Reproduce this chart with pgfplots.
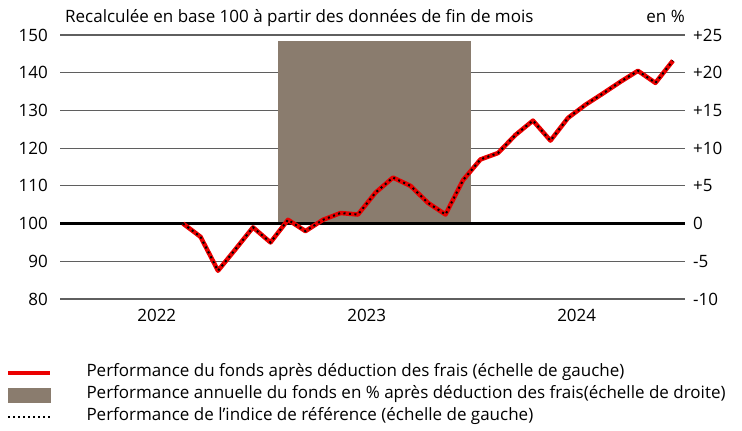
\documentclass[border=0pt]{standalone}
\usepackage{pgfplots}
\usepackage{pgfplotstable}
\pgfplotsset{compat=1.18}
\usepackage{fontspec}
\setmainfont{Open Sans}
\definecolor{barcol}{RGB}{138,124,110}
\definecolor{gridcol}{RGB}{95,95,95}
\definecolor{fundred}{RGB}{235,0,0}

% Performance du fonds (base 100), fin de mois, index 0 = août 2022
\pgfplotstableread{
x y
0 100.0
1 96.5
2 87.5
3 93.2
4 99.0
5 95.0
6 101.0
7 98.0
8 101.0
9 102.8
10 102.4
11 108.2
12 112.2
13 110.0
14 105.5
15 102.4
16 111.5
17 117.0
18 118.7
19 123.5
20 127.3
21 122.0
22 128.0
23 131.5
24 134.5
25 137.6
26 140.5
27 137.3
28 143.2
}\fundtable

% Indice de reference (base 100)
\pgfplotstableread{
x y
0 100.0
1 96.5
2 87.5
3 93.2
4 99.0
5 95.0
6 101.0
7 98.0
8 101.0
9 102.8
10 102.4
11 108.2
12 112.2
13 110.0
14 105.5
15 102.4
16 111.5
17 117.0
18 118.7
19 123.5
20 127.3
21 122.0
22 128.0
23 131.5
24 134.5
25 137.6
26 140.5
27 137.3
28 143.2
}\indextable

\begin{document}
\fontsize{17bp}{20bp}\selectfont
\begin{tikzpicture}[x=1bp,y=1bp]
\path[use as bounding box] (0,0) rectangle (742,430);
\pgfplotsset{
  base/.style={
    at={(60bp,131bp)}, anchor=south west,
    scale only axis, width=625bp, height=264bp,
    xmin=-7.03, xmax=28.69,
    axis line style={draw=none},
    major tick length=0pt, tick style={draw=none},
    font=\fontsize{17bp}{20bp}\selectfont,
  },
}
% left axis: grid and labels
\begin{axis}[base,
  ymin=80, ymax=150,
  ytick={80,90,100,110,120,130,140,150},
  yticklabels={80,90,100,110,120,130,140,150},
  ymajorgrids, grid style={gridcol, line width=1.2bp},
  yticklabel style={inner sep=0pt, anchor=east, xshift=-12bp},
  xtick={-1.5,10.5,22.5}, xticklabels={2022,2023,2024},
  xticklabel style={inner sep=0pt, anchor=north, yshift=-10bp},
]
\end{axis}
% right axis: annual performance bar
\begin{axis}[base,
  ymin=-10, ymax=25,
  axis y line*=right, axis x line=none,
  ytick={-10,-5,0,5,10,15,20,25},
  yticklabels={-10,-5,0,+5,+10,+15,+20,+25},
  yticklabel style={inner sep=0pt, anchor=west, xshift=8bp},
  xtick=\empty,
]
\addplot[ybar, bar width=11.03, bar shift=0pt, fill=barcol, draw=none] coordinates {(10.945,24.2)};
\end{axis}
% left axis again: lines
\begin{axis}[base,
  ymin=80, ymax=150,
  ytick=\empty, xtick=\empty,
  clip=false,
  legend image code/.code={\draw[#1] (0bp,0bp) -- (42bp,0bp);},
  legend style={at={(-0.0864,-0.248)}, anchor=north west, draw=none, fill=none,
    inner sep=0pt, outer sep=0pt, row sep=5bp, column sep=34bp,
    nodes={inner sep=0pt, text height=12.5bp, text depth=4.5bp},
    font=\fontsize{17bp}{20bp}\selectfont},
  legend cell align=left,
]
\addlegendimage{fundred, line width=4.5bp}
\addlegendentry{Performance du fonds après déduction des frais (échelle de gauche)}
\addlegendimage{legend image code/.code={\fill[barcol] (0bp,-7bp) rectangle (42bp,7bp);}}
\addlegendentry{Performance annuelle du fonds en \% après déduction des frais(échelle de droite)}
\addlegendimage{black, line width=2bp, dash pattern=on 2bp off 3bp}
\addlegendentry{Performance de l’indice de référence (échelle de gauche)}
\addplot[black, line width=2.5bp, forget plot] coordinates {(-7.03,100) (28.69,100)};
\addplot[fundred, line width=4.5bp, line join=round, forget plot] table[x=x,y=y] {\fundtable};
\addplot[black, line width=2bp, dash pattern=on 2bp off 3.5bp, forget plot] table[x=x,y=y] {\indextable};
\end{axis}
\node[anchor=base west, inner sep=0pt] at (65,407) {Recalculée en base 100 à partir des données de fin de mois};
\node[anchor=base east, inner sep=0pt] at (685,407) {en \%};
\end{tikzpicture}
\end{document}
